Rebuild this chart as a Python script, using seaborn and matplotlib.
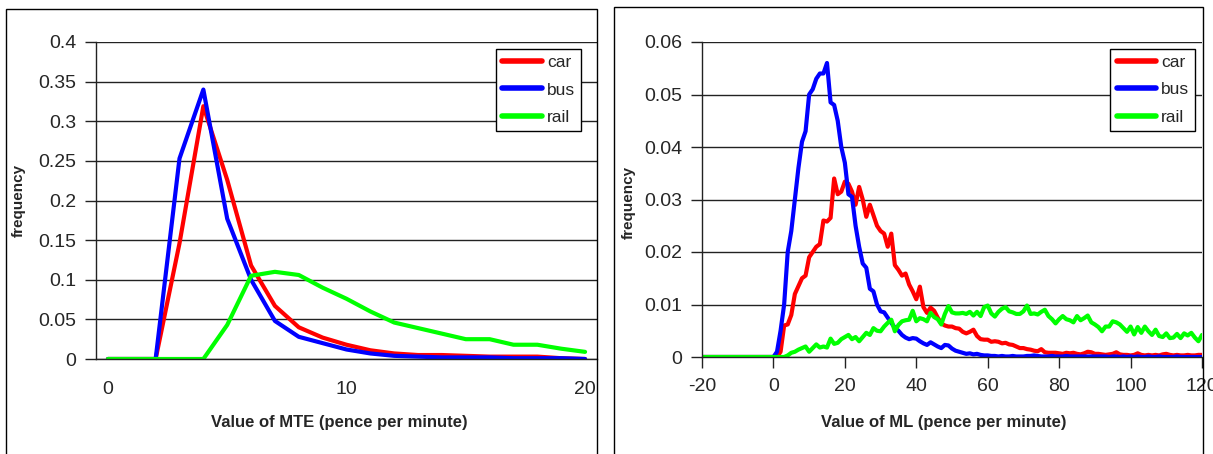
import numpy as np
import pandas as pd
import seaborn as sns
import matplotlib
matplotlib.use('Agg')
from matplotlib import pyplot as plt
from matplotlib.patches import Rectangle
from matplotlib.ticker import FuncFormatter

sns.set_style('white')
plt.rcParams['font.family'] = ['Liberation Sans', 'DejaVu Sans']
plt.rcParams['axes.unicode_minus'] = False
plt.rcParams['lines.solid_joinstyle'] = 'round'
plt.rcParams['lines.solid_capstyle'] = 'round'

modes = ['car', 'bus', 'rail']
colours = {'car': '#ff0000', 'bus': '#0000ff', 'rail': '#00ff00'}

# left panel: MTE, one value per category 0..20
mte_x = list(range(21))
car_mte = [0, 0, 0, 0.146, 0.319, 0.226, 0.118, 0.067, 0.040, 0.027, 0.018,
           0.011, 0.007, 0.005, 0.005, 0.004, 0.003, 0.003, 0.003, 0.001, 0]
bus_mte = [0, 0, 0, 0.253, 0.340, 0.177, 0.100, 0.048, 0.028, 0.020, 0.012,
           0.007, 0.004, 0.003, 0.002, 0.002, 0.002, 0.001, 0.001, 0.001, 0]
rail_mte = [0, 0, 0, 0, 0, 0.043, 0.105, 0.110, 0.106, 0.090, 0.076,
            0.060, 0.046, 0.039, 0.032, 0.025, 0.025, 0.018, 0.018, 0.013, 0.009]

# right panel: ML, -20..120 pence per minute
ml_x = list(range(-20, 121))
car_ml = [0, 0, 0, 0, 0, 0, 0, 0, 0, 0, 0, 0, 0, 0, 0, 0, 0, 0, 0, 0,
          0, 0, 0.001, 0.006, 0.0062, 0.008, 0.012, 0.0135, 0.015, 0.0155,
          0.019, 0.020, 0.021, 0.0215, 0.026, 0.0258, 0.0265, 0.034, 0.031, 0.0315,
          0.0334, 0.033, 0.0315, 0.029, 0.0324, 0.030, 0.0267, 0.029, 0.027, 0.025,
          0.024, 0.0235, 0.021, 0.0235, 0.0175, 0.0166, 0.0155, 0.0159, 0.0138, 0.0125,
          0.011, 0.0134, 0.0095, 0.0084, 0.0094, 0.0088, 0.0075, 0.0064, 0.006, 0.0058,
          0.0058, 0.0055, 0.0054, 0.0048, 0.0045, 0.0048, 0.0052, 0.004, 0.0034, 0.0033,
          0.0033, 0.0029, 0.003, 0.0029, 0.0026, 0.0027, 0.0024, 0.0023, 0.002, 0.0017,
          0.0017, 0.0015, 0.0014, 0.0012, 0.0011, 0.0015, 0.0009, 0.0008, 0.0008, 0.0008,
          0.0007, 0.0006, 0.0008, 0.0007, 0.0008, 0.0006, 0.0005, 0.0007, 0.0010, 0.0009,
          0.0006, 0.0006, 0.0005, 0.0004, 0.0005, 0.0006, 0.0009, 0.0005, 0.0004, 0.0004,
          0.0003, 0.0004, 0.0007, 0.0004, 0.0003, 0.0004, 0.0003, 0.0004, 0.0003, 0.0005,
          0.0006, 0.0004, 0.0003, 0.0004, 0.0003, 0.0003, 0.0004, 0.0003, 0.0003, 0.0004,
          0.0004]
bus_ml = [0, 0, 0, 0, 0, 0, 0, 0, 0, 0, 0, 0, 0, 0, 0, 0, 0, 0, 0, 0,
          0, 0.001, 0.005, 0.010, 0.020, 0.024, 0.030, 0.036, 0.041, 0.043,
          0.050, 0.051, 0.053, 0.054, 0.054, 0.056, 0.0485, 0.048, 0.045, 0.040,
          0.037, 0.031, 0.0305, 0.025, 0.021, 0.0178, 0.017, 0.013, 0.0125, 0.010,
          0.0087, 0.0085, 0.0075, 0.0065, 0.0056, 0.005, 0.0042, 0.0037, 0.0034, 0.0036,
          0.0035, 0.003, 0.0026, 0.0023, 0.0028, 0.0024, 0.002, 0.0017, 0.0023, 0.0022,
          0.0016, 0.0012, 0.001, 0.0008, 0.0006, 0.0007, 0.0005, 0.0006, 0.0004, 0.0003,
          0.0003, 0.0002, 0.0002, 0.0001, 0.0002, 0.0001, 0.0001, 0.0002, 0.0001, 0.0001,
          0.0001, 0.0002, 0.0002, 0.0003, 0.0002, 0.0001, 0.0001, 0.0001, 0.0002, 0.0001,
          0.0001, 0.0001, 0.0002, 0.0001, 0.0001, 0.0001, 0.0001, 0.0001, 0.0001, 0.0001,
          0.0001, 0.0001, 0.0001, 0.0001, 0, 0.0001, 0.0001, 0, 0.0001, 0,
          0.0001, 0, 0.0001, 0, 0, 0.0001, 0, 0, 0.0001, 0,
          0, 0, 0, 0.0001, 0, 0, 0, 0, 0, 0,
          0]
rail_ml = [0, 0, 0, 0, 0, 0, 0, 0, 0, 0, 0, 0, 0, 0, 0, 0, 0, 0, 0, 0,
           0, 0, 0, 0, 0.0003, 0.0008, 0.001, 0.0014, 0.0017, 0.002,
           0.001, 0.0017, 0.0024, 0.0018, 0.002, 0.0018, 0.0035, 0.0025, 0.0027, 0.0034,
           0.0038, 0.0042, 0.0034, 0.0038, 0.003, 0.0038, 0.0046, 0.0042, 0.0055, 0.005,
           0.0049, 0.0058, 0.0065, 0.0071, 0.0049, 0.0061, 0.0068, 0.007, 0.0071, 0.0088,
           0.0068, 0.0074, 0.0072, 0.0068, 0.0084, 0.0076, 0.0072, 0.0062, 0.0082, 0.0097,
           0.0085, 0.0083, 0.0083, 0.0084, 0.0082, 0.0086, 0.0079, 0.0086, 0.0078, 0.0095,
           0.0098, 0.0083, 0.0077, 0.0086, 0.0092, 0.0095, 0.0087, 0.0085, 0.0082, 0.0082,
           0.0087, 0.0098, 0.0082, 0.0083, 0.0081, 0.0086, 0.009, 0.0078, 0.0072, 0.0064,
           0.0072, 0.0078, 0.0072, 0.007, 0.0066, 0.0078, 0.007, 0.0074, 0.0079, 0.0066,
           0.0062, 0.0057, 0.0049, 0.0058, 0.0058, 0.0068, 0.0066, 0.0062, 0.0055, 0.0048,
           0.0058, 0.0043, 0.0057, 0.0046, 0.0058, 0.0049, 0.0042, 0.0052, 0.004, 0.0038,
           0.0045, 0.0036, 0.0037, 0.0044, 0.0036, 0.0045, 0.0041, 0.0046, 0.0037, 0.003,
           0.0042]


def long_form(x, series):
    frames = []
    for name, vals in zip(modes, series):
        frames.append(pd.DataFrame({'x': x, 'y': vals, 'mode': name}))
    return pd.concat(frames, ignore_index=True)


df_mte = long_form(mte_x, [car_mte, bus_mte, rail_mte])
df_ml = long_form(ml_x, [car_ml, bus_ml, rail_ml])

fig = plt.figure(figsize=(12.13, 4.54), dpi=100)
W, H = 1213, 454

# panel borders
fig.patches.append(Rectangle((6 / W, -0.05), (597 - 6) / W, (454 - 9) / H + 0.05,
                             transform=fig.transFigure, fill=False, ec='black', lw=1))
fig.patches.append(Rectangle((614 / W, -0.05), (1203 - 614) / W, (454 - 7) / H + 0.05,
                             transform=fig.transFigure, fill=False, ec='black', lw=1))

ax1 = fig.add_axes([96 / W, (H - 359) / H, 501 / W, 317 / H])
ax2 = fig.add_axes([702 / W, (H - 357) / H, 500 / W, 315 / H])

fmt = FuncFormatter(lambda v, p: '{:g}'.format(round(v, 4)))


def style_axes(ax, ymax, ystep):
    ax.set_ylim(0, ymax)
    ax.set_yticks(np.arange(0, ymax + ystep / 2, ystep))
    ax.yaxis.set_major_formatter(fmt)
    ax.grid(axis='y', color='#222222', lw=1)
    ax.grid(axis='x', visible=False)
    ax.set_axisbelow(True)
    for s in ['top', 'right']:
        ax.spines[s].set_visible(False)
    for s in ['left', 'bottom']:
        ax.spines[s].set_color('#222222')
        ax.spines[s].set_linewidth(1)
    ax.tick_params(axis='y', direction='out', length=8, width=1, color='#222222',
                   labelsize=14, pad=6, left=True)
    ax.tick_params(axis='x', labelsize=14, bottom=True)


for ax, df in [(ax1, df_mte), (ax2, df_ml)]:
    sns.lineplot(data=df, x='x', y='y', hue='mode', hue_order=modes,
                 palette=colours, lw=3, errorbar=None, ax=ax)

style_axes(ax1, 0.4, 0.05)
style_axes(ax2, 0.06, 0.01)

# left: category axis, labels at centres, tick marks at boundaries
ax1.set_xlim(-0.5, 20.5)
ax1.set_xticks([0, 10, 20])
ax1.set_xticks([-0.5, 9.5, 19.5], minor=True)
ax1.tick_params(axis='x', which='major', length=0, pad=16)
ax1.tick_params(axis='x', which='minor', direction='out', length=8, width=1, color='#222222')

# right: value axis
ax2.set_xlim(-20, 120)
ax2.set_xticks(range(-20, 121, 20))
ax2.tick_params(axis='x', which='major', direction='out', length=8, width=1,
                color='#222222', pad=7)

ax1.set_xlabel('Value of MTE (pence per minute)', fontsize=12, fontweight='bold')
ax2.set_xlabel('Value of ML (pence per minute)', fontsize=12, fontweight='bold')
ax1.set_ylabel('frequency', fontsize=11, fontweight='bold')
ax2.set_ylabel('frequency', fontsize=11, fontweight='bold')
ax1.xaxis.set_label_coords(0.485, -0.177)
ax2.xaxis.set_label_coords(0.484, -0.183)
ax1.yaxis.set_label_coords(-0.14, 0.5)
ax2.yaxis.set_label_coords(-0.132, 0.49)

for ax, anchor in [(ax1, (0.968, 0.978)), (ax2, (0.986, 0.978))]:
    old = ax.get_legend()
    handles = old.legend_handles
    labels = [t.get_text() for t in old.get_texts()]
    leg = ax.legend(handles, labels, loc='upper right', bbox_to_anchor=anchor,
                    borderaxespad=0, fontsize=12.5, frameon=True, fancybox=False,
                    framealpha=1, edgecolor='black', handlelength=2.3,
                    handletextpad=0.25, labelspacing=0.7, borderpad=0.35)
    leg.get_frame().set_linewidth(1)
    for h in leg.legend_handles:
        h.set_linewidth(4)

fig.savefig('out.png', dpi=100)
